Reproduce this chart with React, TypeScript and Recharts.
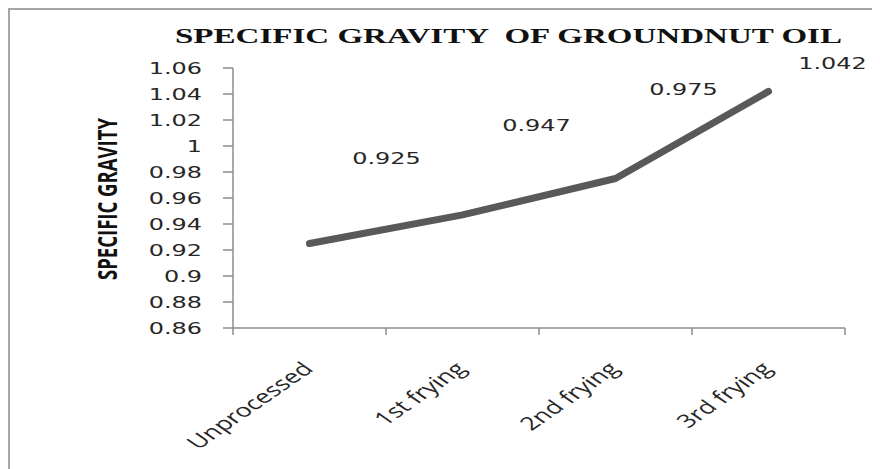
import React from 'react';
import { LineChart, Line, XAxis, YAxis, LabelList } from 'recharts';

const categories = ['Unprocessed', '1st frying', '2nd frying', '3rd frying'];
const gravity = [0.925, 0.947, 0.975, 1.042];
const yTicks = [0.86, 0.88, 0.9, 0.92, 0.94, 0.96, 0.98, 1, 1.02, 1.04, 1.06];

const data = categories.map((name, i) => ({ name, value: gravity[i] }));

const W = 870;
const H = 460;
const Y_AXIS_W = 223;
const X_AXIS_H = 142;
const MARGIN = { top: 58, right: 35, bottom: 0, left: 0 };
const PLOT_BOTTOM = H - X_AXIS_H;
const BAND = (W - MARGIN.right - Y_AXIS_W) / categories.length;
// the reference picture is stretched sideways, so text is too
const STRETCH = 1.45;
const AXIS_COLOR = '#8c8c8c';
const TEXT_COLOR = '#262626';
// where the data labels sit relative to their points
const LABEL_NUDGE = [[77, -85], [74, -90], [68, -89], [64, -28]];

const fmt = (v: number) => String(parseFloat(v.toFixed(2)));

const YTick = ({ x, y, payload }: any) => (
  <text
    transform={`translate(${x},${y}) scale(${STRETCH},1)`}
    textAnchor="end"
    dy="0.36em"
    fontFamily="DejaVu Sans"
    fontSize={16.5}
    fill={TEXT_COLOR}
  >
    {fmt(payload.value)}
  </text>
);

const XTick = ({ payload, index }: any) => {
  const cx = payload.coordinate;
  const y0 = PLOT_BOTTOM;
  return (
    <g>
      <line x1={cx - BAND / 2} x2={cx - BAND / 2} y1={y0} y2={y0 + 7} stroke={AXIS_COLOR} strokeWidth={1.5} />
      {index === categories.length - 1 && (
        <line x1={cx + BAND / 2} x2={cx + BAND / 2} y1={y0} y2={y0 + 7} stroke={AXIS_COLOR} strokeWidth={1.5} />
      )}
      <text
        transform={`translate(${cx + 5},${y0 + 42}) scale(${STRETCH},1) rotate(-45)`}
        textAnchor="end"
        fontFamily="Open Sans"
        fontSize={18.5}
        fill={TEXT_COLOR}
      >
        {payload.value}
      </text>
    </g>
  );
};

const PointLabel = ({ x, y, value, index }: any) => {
  const [dx, dy] = LABEL_NUDGE[index];
  return (
    <text
      transform={`translate(${x + dx},${y + dy}) scale(${STRETCH},1)`}
      textAnchor="middle"
      dy="0.36em"
      fontFamily="DejaVu Sans"
      fontSize={16.5}
      fill={TEXT_COLOR}
    >
      {Number(value).toFixed(3)}
    </text>
  );
};

export default function App() {
  return (
    <div style={{ width: 880, height: 470, border: '2px solid #a6a6a6', boxSizing: 'border-box', position: 'relative', background: '#fff' }}>
      <LineChart width={W} height={H} data={data} margin={MARGIN}>
        <XAxis
          dataKey="name"
          interval={0}
          height={X_AXIS_H}
          padding={{ left: BAND / 2, right: BAND / 2 }}
          axisLine={{ stroke: AXIS_COLOR, strokeWidth: 1.5 }}
          tickLine={false}
          tick={<XTick />}
        />
        <YAxis
          domain={[0.86, 1.06]}
          ticks={yTicks}
          interval={0}
          width={Y_AXIS_W}
          tickSize={10}
          tickMargin={21}
          axisLine={{ stroke: AXIS_COLOR, strokeWidth: 1.5 }}
          tickLine={{ stroke: AXIS_COLOR, strokeWidth: 1.5 }}
          tick={<YTick />}
          allowDataOverflow
        />
        <Line
          type="linear"
          dataKey="value"
          stroke="#595959"
          strokeWidth={7}
          strokeLinecap="round"
          strokeLinejoin="round"
          dot={false}
          activeDot={false}
          isAnimationActive={false}
        >
          <LabelList dataKey="value" content={<PointLabel />} />
        </Line>
      </LineChart>
      <svg width={W} height={H} style={{ position: 'absolute', left: 0, top: 0, pointerEvents: 'none' }}>
        <text
          x={498.5}
          y={33}
          textAnchor="middle"
          fontFamily="Liberation Serif"
          fontWeight="bold"
          fontSize={22}
          textLength={667}
          lengthAdjust="spacingAndGlyphs"
          fill="#111"
          style={{ whiteSpace: 'pre' }}
        >
          {'SPECIFIC GRAVITY  OF GROUNDNUT OIL'}
        </text>
        <text
          transform={`translate(97,189) scale(${STRETCH},1) rotate(-90)`}
          textAnchor="middle"
          dy="0.36em"
          fontFamily="Open Sans"
          fontWeight="bold"
          fontSize={19}
          textLength={162}
          lengthAdjust="spacingAndGlyphs"
          fill="#111"
        >
          SPECIFIC GRAVITY
        </text>
      </svg>
    </div>
  );
}
